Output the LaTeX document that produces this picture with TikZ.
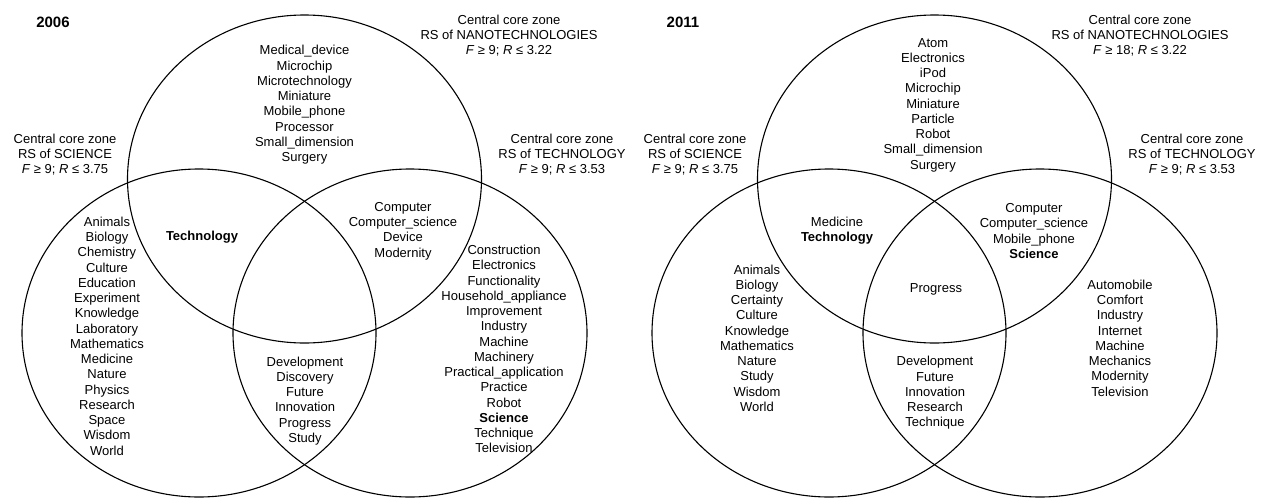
\documentclass[tikz,border=0pt]{standalone}
\usepackage{fontspec}
\setmainfont{Liberation Sans}
\begin{document}
\begin{tikzpicture}[x=1pt, y=-1pt,
    words/.style={align=center, inner sep=0pt, font=\fontsize{13}{15.25}\selectfont},
    zone/.style={align=center, inner sep=0pt, font=\fontsize{13}{15}\selectfont},
    year/.style={inner sep=0pt, font=\fontsize{15}{18}\selectfont\bfseries},
    set/.style={line width=1.1pt}]
    \useasboundingbox (0,0) rectangle (1262,498);
    % 2006
    \coordinate (sciA) at (199,333);
    \coordinate (nanoA) at (304.5,179);
    \coordinate (techA) at (410,333);
    \draw[set] (sciA) ellipse [x radius=177pt, y radius=164pt];
    \draw[set] (nanoA) ellipse [x radius=177pt, y radius=164pt];
    \draw[set] (techA) ellipse [x radius=177pt, y radius=164pt];
    \node[year] (yearA) at (53,22) {2006};
    \node[zone] (sciZoneA) at (65,155) {Central core zone\\RS of SCIENCE\\\textit{F} ≥ 9; \textit{R} ≤ 3.75};
    \node[zone] (nanoZoneA) at (509,36) {Central core zone\\RS of NANOTECHNOLOGIES\\\textit{F} ≥ 9; \textit{R} ≤ 3.22};
    \node[zone] (techZoneA) at (562,155) {Central core zone\\RS of TECHNOLOGY\\\textit{F} ≥ 9; \textit{R} ≤ 3.53};
    \node[words] (nanoOnlyA) at (304.5,105) {Medical\_device\\Microchip\\Microtechnology\\Miniature\\Mobile\_phone\\Processor\\Small\_dimension\\Surgery};
    \node[words] (sciOnlyA) at (107,336) {Animals\\Biology\\Chemistry\\Culture\\Education\\Experiment\\Knowledge\\Laboratory\\Mathematics\\Medicine\\Nature\\Physics\\Research\\Space\\Wisdom\\World};
    \node[words] (sciNanoA) at (202,237) {\textbf{Technology}};
    \node[words] (nanoTechA) at (403,231) {Computer\\Computer\_science\\Device\\Modernity};
    \node[words] (techOnlyA) at (504,349) {Construction\\Electronics\\Functionality\\Household\_appliance\\Improvement\\Industry\\Machine\\Machinery\\Practical\_application\\Practice\\Robot\\\textbf{Science}\\Technique\\Television};
    \node[words] (sciTechA) at (305,401) {Development\\Discovery\\Future\\Innovation\\Progress\\Study};
    % 2011
    \coordinate (sciB) at (829,333);
    \coordinate (nanoB) at (934.5,179);
    \coordinate (techB) at (1040,333);
    \draw[set] (sciB) ellipse [x radius=177pt, y radius=164pt];
    \draw[set] (nanoB) ellipse [x radius=177pt, y radius=164pt];
    \draw[set] (techB) ellipse [x radius=177pt, y radius=164pt];
    \node[year] (yearB) at (683,22) {2011};
    \node[zone] (sciZoneB) at (695,155) {Central core zone\\RS of SCIENCE\\\textit{F} ≥ 9; \textit{R} ≤ 3.75};
    \node[zone] (nanoZoneB) at (1140,36) {Central core zone\\RS of NANOTECHNOLOGIES\\\textit{F} ≥ 18; \textit{R} ≤ 3.22};
    \node[zone] (techZoneB) at (1192,155) {Central core zone\\RS of TECHNOLOGY\\\textit{F} ≥ 9; \textit{R} ≤ 3.53};
    \node[words] (nanoOnlyB) at (933,105) {Atom\\Electronics\\iPod\\Microchip\\Miniature\\Particle\\Robot\\Small\_dimension\\Surgery};
    \node[words] (sciOnlyB) at (757,338) {Animals\\Biology\\Certainty\\Culture\\Knowledge\\Mathematics\\Nature\\Study\\Wisdom\\World};
    \node[words] (sciNanoB) at (837,231) {Medicine\\\textbf{Technology}};
    \node[words] (nanoTechB) at (1034,231) {Computer\\Computer\_science\\Mobile\_phone\\\textbf{Science}};
    \node[words] (allB) at (936,289) {Progress};
    \node[words] (sciTechB) at (935,393) {Development\\Future\\Innovation\\Research\\Technique};
    \node[words] (techOnlyB) at (1120,338) {Automobile\\Comfort\\Industry\\Internet\\Machine\\Mechanics\\Modernity\\Television};
\end{tikzpicture}
\end{document}
